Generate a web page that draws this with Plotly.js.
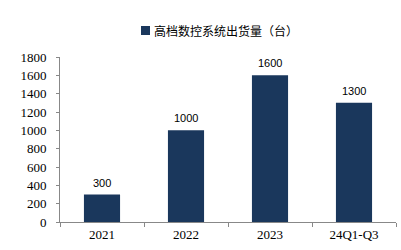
<!DOCTYPE html>
<html><head><meta charset="utf-8">
<script src="https://cdn.plot.ly/plotly-3.0.1.min.js"></script>
<style>html,body{margin:0;padding:0;background:#fff}</style>
</head><body>
<div id="chart" style="width:401px;height:250px"></div>
<script>
const categories = ["2021", "2022", "2023", "24Q1-Q3"];
const shipments = [300, 1000, 1600, 1300];
const seriesName = "高档数控系统出货量（台）";
const yTicks = [0, 200, 400, 600, 800, 1000, 1200, 1400, 1600, 1800];

const barColor = "#1a375c";
const serif = "'Liberation Serif', 'Times New Roman', serif";

// value labels: x is the category index on the category axis
const valueLabels = categories.map((c, i) => ({
  x: i, y: shipments[i], xref: "x", yref: "y",
  text: String(shipments[i]), showarrow: false,
  xanchor: "center", yanchor: "bottom", yshift: 4,
  font: {family: "'Liberation Sans', Arial, sans-serif", size: 11, color: "#000"}
}));

Plotly.newPlot("chart", [{
  type: "bar",
  x: categories,
  y: shipments,
  name: seriesName,
  marker: {color: barColor, line: {width: 0}},
  width: 0.43,
  showlegend: false
}], {
  width: 401, height: 250,
  margin: {l: 60, r: 5, t: 57, b: 28},
  paper_bgcolor: "#fff", plot_bgcolor: "#fff",
  showlegend: false,
  shapes: [{type: "rect", xref: "paper", yref: "paper",
    x0: (141 - 60) / 336, x1: (150 - 60) / 336,
    y0: (222 - 35) / 165, y1: (222 - 26) / 165,
    fillcolor: barColor, line: {width: 0}}],
  annotations: [{xref: "paper", yref: "paper",
    x: (152 - 60) / 336, y: (222 - 30.5) / 165,
    xanchor: "left", yanchor: "middle", showarrow: false,
    text: seriesName,
    font: {family: "'Noto Sans CJK SC', sans-serif", size: 12, color: "#000"}}].concat(valueLabels),
  xaxis: {
    type: "category",
    categoryorder: "array", categoryarray: categories,
    showline: true, linecolor: "#888", linewidth: 1,
    ticks: "outside", ticklen: 4, tickcolor: "#888", tickson: "boundaries",
    tickfont: {family: serif, size: 13, color: "#000"},
    showgrid: false, zeroline: false
  },
  yaxis: {
    range: [0, 1800],
    tickvals: yTicks,
    showline: true, linecolor: "#888", linewidth: 1,
    ticks: "outside", ticklen: 3, tickcolor: "#888",
    ticklabelstandoff: 7,
    tickfont: {family: serif, size: 13, color: "#000"},
    showgrid: false, zeroline: false
  },
  bargap: 0.57
}, {displayModeBar: false, staticPlot: true});
</script>
</body></html>
